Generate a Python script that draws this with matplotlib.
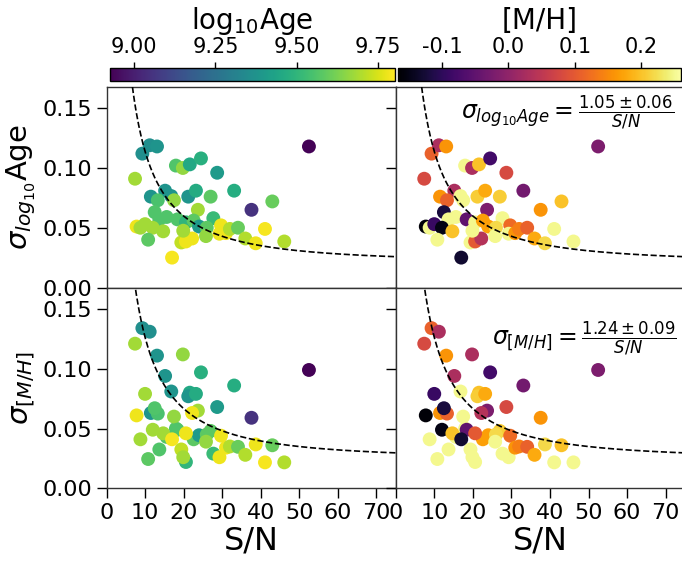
import numpy as np
import matplotlib
matplotlib.use("Agg")
import matplotlib.pyplot as plt
from matplotlib.colors import Normalize

# per-galaxy values
sn = [52.5, 37.6, 9.3, 11.2, 13.1, 7.4, 18.0, 19.8, 21.6, 24.5, 28.7, 33.1, 43.0,
      11.5, 15.2, 13.3, 16.8, 17.5, 21.2, 23.2, 27.0, 23.7, 12.5, 13.7, 15.6, 18.4,
      20.6, 22.6, 24.0, 27.7, 26.0, 7.8, 8.8, 10.0, 12.0, 14.7, 10.8, 17.0, 19.4,
      20.6, 22.2, 19.9, 25.8, 29.7, 29.3, 31.0, 32.0, 34.1, 36.0, 38.7, 41.1, 46.1]
sig_age = [0.118, 0.065, 0.112, 0.119, 0.118, 0.091, 0.102, 0.100, 0.103, 0.108, 0.096, 0.081, 0.072,
           0.076, 0.081, 0.073, 0.0765, 0.073, 0.076, 0.081, 0.076, 0.065, 0.063, 0.057, 0.059, 0.057,
           0.0545, 0.056, 0.051, 0.058, 0.050, 0.051, 0.050, 0.053, 0.050, 0.047, 0.040, 0.025, 0.0377,
           0.0385, 0.041, 0.0475, 0.043, 0.052, 0.045, 0.0455, 0.049, 0.050, 0.041, 0.037, 0.049, 0.0385]
sig_mh = [0.099, 0.059, 0.134, 0.131, 0.111, 0.121, 0.050, 0.112, 0.080, 0.097, 0.068, 0.086, 0.036,
          0.063, 0.094, 0.0625, 0.081, 0.060, 0.077, 0.079, 0.048, 0.065, 0.067, 0.0325, 0.043, 0.049,
          0.022, 0.041, 0.0444, 0.029, 0.045, 0.061, 0.041, 0.079, 0.049, 0.046, 0.0245, 0.041, 0.0325,
          0.046, 0.063, 0.026, 0.039, 0.044, 0.026, 0.034, 0.035, 0.0347, 0.028, 0.0367, 0.0217, 0.0217]
log_age = [8.93, 9.05, 9.36, 9.36, 9.38, 9.68, 9.56, 9.66, 9.45, 9.48, 9.40, 9.47, 9.60,
           9.38, 9.38, 9.55, 9.38, 9.66, 9.38, 9.46, 9.58, 9.68, 9.56, 9.56, 9.56, 9.56,
           9.50, 9.58, 9.40, 9.52, 9.58, 9.78, 9.68, 9.68, 9.68, 9.68, 9.58, 9.79, 9.72,
           9.78, 9.78, 9.68, 9.66, 9.78, 9.78, 9.78, 9.70, 9.60, 9.70, 9.78, 9.79, 9.70]
mh = [-0.02, 0.16, 0.11, 0.03, 0.16, 0.08, 0.25, 0.03, 0.20, -0.08, 0.08, -0.03, 0.20,
      0.16, 0.03, 0.11, 0.25, 0.25, 0.21, 0.18, 0.21, -0.02, -0.12, 0.25, 0.25, -0.05,
      0.25, 0.17, 0.17, 0.25, 0.22, -0.16, 0.25, -0.09, -0.15, 0.20, 0.25, -0.13, 0.25,
      0.10, 0.04, 0.25, 0.25, 0.12, 0.25, 0.16, 0.14, 0.11, 0.18, 0.22, 0.25, 0.25]

# fitted error curves: sigma = sqrt((a/SN)^2 + floor^2)
fit_age = (1.12, 0.021)
fit_mh = (1.24, 0.0246)

age_norm = Normalize(vmin=8.926, vmax=9.802)
mh_norm = Normalize(vmin=-0.166, vmax=0.26)

W, H = 682, 561
fig = plt.figure(figsize=(W / 100, H / 100), dpi=100)

def frac_box(x0, x1, ytop, ybot):
    return [x0 / W, 1 - ybot / H, (x1 - x0) / W, (ybot - ytop) / H]

ax_tl = fig.add_axes(frac_box(106.5, 395.7, 86.7, 287.5))
ax_tr = fig.add_axes(frac_box(395.7, 684.9, 86.7, 287.5))
ax_bl = fig.add_axes(frac_box(106.5, 395.7, 287.5, 488.3))
ax_br = fig.add_axes(frac_box(395.7, 684.9, 287.5, 488.3))
cax_l = fig.add_axes(frac_box(110, 395, 67.7, 81))
cax_r = fig.add_axes(frac_box(398, 681, 67.7, 81))

grid = np.linspace(1, 80, 400)
curve_age = np.sqrt((fit_age[0] / grid) ** 2 + fit_age[1] ** 2)
curve_mh = np.sqrt((fit_mh[0] / grid) ** 2 + fit_mh[1] ** 2)

sc_age = ax_tl.scatter(sn, sig_age, c=log_age, cmap='viridis', norm=age_norm, s=100, edgecolors='none')
ax_bl.scatter(sn, sig_mh, c=log_age, cmap='viridis', norm=age_norm, s=100, edgecolors='none')
sc_mh = ax_tr.scatter(sn, sig_age, c=mh, cmap='inferno', norm=mh_norm, s=100, edgecolors='none')
ax_br.scatter(sn, sig_mh, c=mh, cmap='inferno', norm=mh_norm, s=100, edgecolors='none')

for ax in (ax_tl, ax_tr):
    ax.plot(grid, curve_age, 'k--', lw=1.2, zorder=5)
for ax in (ax_bl, ax_br):
    ax.plot(grid, curve_mh, 'k--', lw=1.2, zorder=5)

for ax in (ax_tl, ax_tr, ax_bl, ax_br):
    ax.set_xlim(0, 75)
    ax.set_ylim(0, 0.168)
    ax.set_yticks([0.0, 0.05, 0.10, 0.15])
    ax.set_xticks(range(0, 80, 10))
    ax.tick_params(direction='out', length=7, width=1, labelsize=16)
    for sp in ax.spines.values():
        sp.set_linewidth(1.0)
        sp.set_color('#333333')

ax_tl.tick_params(axis='x', bottom=False, labelbottom=False)
ax_tr.tick_params(axis='x', bottom=False, labelbottom=False)
ax_tr.tick_params(axis='y', labelleft=False)
ax_br.tick_params(axis='y', labelleft=False)
ax_tl.yaxis.set_major_formatter(matplotlib.ticker.FormatStrFormatter('%.2f'))
ax_bl.yaxis.set_major_formatter(matplotlib.ticker.FormatStrFormatter('%.2f'))

ax_tl.set_ylabel(r'$\sigma_{log_{10}}$Age', fontsize=21, labelpad=3)
ax_bl.set_ylabel(r'$\sigma_{[M/H]}$', fontsize=21, labelpad=3)
ax_bl.set_xlabel('S/N', fontsize=23, labelpad=2)
ax_br.set_xlabel('S/N', fontsize=23, labelpad=2)

ax_tr.text(0.962, 0.87, r'$\sigma_{log_{10}Age} = \frac{1.05 \pm 0.06}{S/N}$',
           transform=ax_tr.transAxes, ha='right', va='center', fontsize=17)
ax_br.text(0.973, 0.744, r'$\sigma_{[M/H]} = \frac{1.24 \pm 0.09}{S/N}$',
           transform=ax_br.transAxes, ha='right', va='center', fontsize=17)

cb_l = fig.colorbar(sc_age, cax=cax_l, orientation='horizontal')
cb_r = fig.colorbar(sc_mh, cax=cax_r, orientation='horizontal')
cb_l.set_ticks([9.00, 9.25, 9.50, 9.75])
cb_l.ax.xaxis.set_major_formatter(matplotlib.ticker.FormatStrFormatter('%.2f'))
cb_r.set_ticks([-0.1, 0.0, 0.1, 0.2])
cb_r.ax.xaxis.set_major_formatter(matplotlib.ticker.FormatStrFormatter('%.1f'))
for cb, lab in ((cb_l, r'log$_{10}$Age'), (cb_r, '[M/H]')):
    cb.ax.xaxis.set_ticks_position('top')
    cb.ax.xaxis.set_label_position('top')
    cb.ax.tick_params(labelsize=15, length=4, width=1)
    cb.set_label(lab, fontsize=20, labelpad=6)
    cb.outline.set_linewidth(1.0)

fig.savefig('out.png', dpi=100)
